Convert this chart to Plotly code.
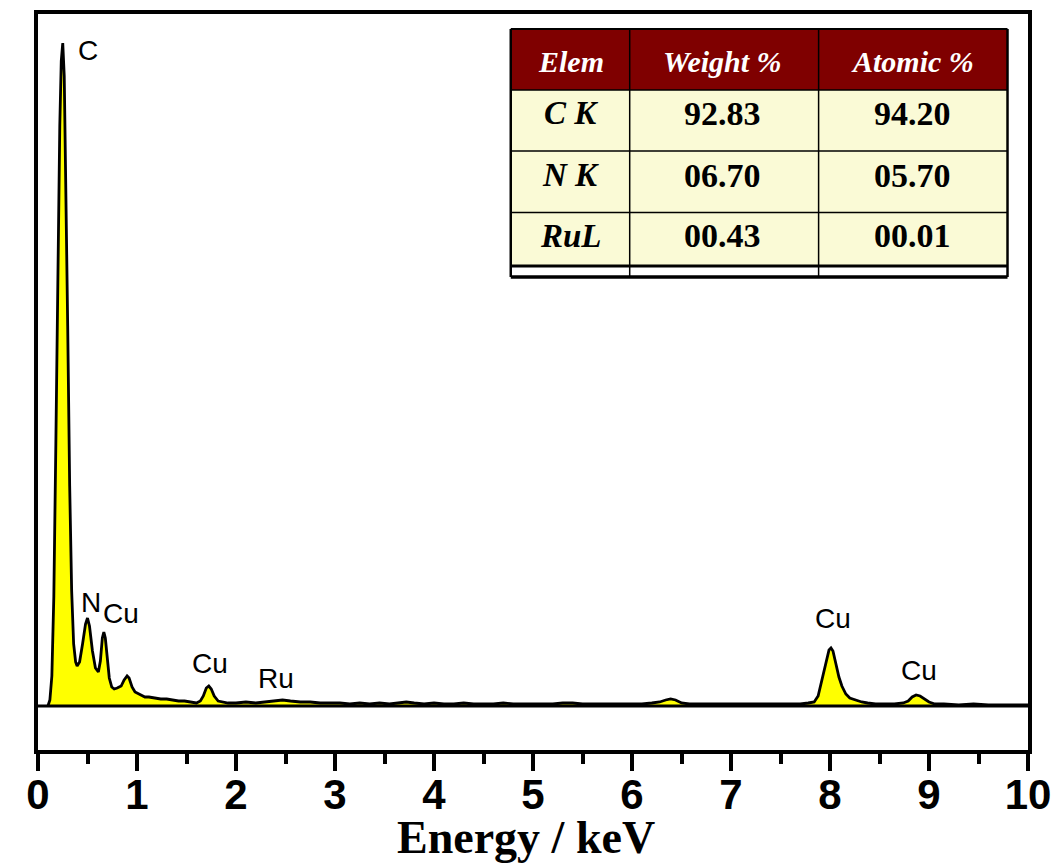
import plotly.graph_objects as go

# ---------------- data ----------------
energy_kev = [0.10, 0.12, 0.14, 0.16, 0.18, 0.20, 0.22, 0.235, 0.25, 0.265, 0.28, 0.30, 0.32, 0.34,
              0.36, 0.38, 0.395, 0.42, 0.45, 0.48, 0.50, 0.52, 0.55, 0.58, 0.61, 0.63, 0.65, 0.665,
              0.68, 0.70, 0.72, 0.745, 0.77, 0.80, 0.84, 0.87, 0.90, 0.92, 0.95, 0.98, 1.02, 1.08,
              1.12, 1.18, 1.24, 1.30, 1.36, 1.42, 1.48, 1.54, 1.60, 1.64, 1.67, 1.70, 1.725, 1.75,
              1.78, 1.82, 1.86, 1.92, 2.00, 2.10, 2.20, 2.30, 2.40, 2.47, 2.55, 2.65, 2.75, 2.85,
              2.95, 3.05, 3.15, 3.25, 3.35, 3.45, 3.55, 3.65, 3.72, 3.80, 3.90, 4.00, 4.10, 4.20,
              4.30, 4.40, 4.50, 4.60, 4.70, 4.80, 4.90, 5.00, 5.10, 5.20, 5.30, 5.40, 5.50, 5.60,
              5.70, 5.80, 5.90, 6.00, 6.10, 6.20, 6.28, 6.34, 6.39, 6.44, 6.50, 6.58, 6.70, 6.80,
              6.90, 7.00, 7.10, 7.20, 7.30, 7.40, 7.50, 7.60, 7.70, 7.78, 7.84, 7.88, 7.92, 7.96,
              7.99, 8.01, 8.03, 8.06, 8.09, 8.12, 8.16, 8.20, 8.26, 8.32, 8.38, 8.46, 8.55, 8.65,
              8.74, 8.79, 8.83, 8.87, 8.91, 8.95, 9.00, 9.06, 9.15, 9.30, 9.45, 9.60, 9.75, 9.90,
              10.00]
counts = [0, 6, 30, 110, 260, 430, 580, 645, 663, 630, 540, 380, 220, 115,
          62, 44, 40, 44, 62, 82, 88, 80, 55, 38, 34, 45, 68, 74,
          68, 48, 28, 19, 17, 18, 20, 26, 30, 28, 19, 14, 12, 9,
          9, 8, 7, 7, 6, 5, 5, 4, 3, 5, 10, 18, 20, 17,
          10, 5, 4, 3, 3, 4, 3, 4, 5, 6, 5, 4, 4, 3,
          3, 3, 2, 3, 2, 3, 2, 3, 4, 3, 2, 3, 2, 2,
          3, 2, 2, 2, 3, 2, 2, 2, 2, 2, 3, 3, 2, 2,
          2, 2, 2, 2, 2, 3, 4, 6, 7, 6, 3, 2, 2, 2,
          2, 2, 2, 2, 2, 2, 2, 2, 2, 3, 4, 10, 26, 44,
          56, 58, 55, 42, 29, 20, 12, 8, 6, 4, 3, 2, 2, 2,
          3, 5, 9, 11, 10, 7, 4, 2, 2, 1, 2, 1, 1, 1,
          1]

peak_labels = ["C", "N", "Cu", "Cu", "Ru", "Cu", "Cu"]
peak_label_x = [0.51, 0.54, 0.84, 1.74, 2.40, 8.03, 8.90]
peak_label_y = [656, 104, 93, 43, 28, 88, 36]

x_ticks = [0, 1, 2, 3, 4, 5, 6, 7, 8, 9, 10]
x_tick_labels = ["0", "1", "2", "3", "4", "5", "6", "7", "8", "9", "10"]
x_title = "Energy / keV"

table_header = ["Elem", "Weight %", "Atomic %"]
table_elements = ["C K", "N K", "RuL"]
table_weight = ["92.83", "06.70", "00.43"]
table_atomic = ["94.20", "05.70", "00.01"]

# ---------------- layout geometry (screen pixels) ----------------
OFF = 8                      # default page body margin
W, H = 1059 - OFF, 863 - OFF
FRAME_L, FRAME_R, FRAME_T, FRAME_B = 38, 1028.5, 14, 750
ML = FRAME_L - OFF
MR = W - (FRAME_R - OFF)
MT = FRAME_T - OFF
MB = H - (FRAME_B - OFF)
PW, PH = W - ML - MR, H - MT - MB


def px_x(px):
    return (px - FRAME_L) / PW


def px_y(py):
    return (FRAME_B - py) / PH


fig = go.Figure()

fig.add_trace(go.Scatter(
    x=energy_kev, y=counts, mode="lines",
    line=dict(color="black", width=2.8),
    fill="tozeroy", fillcolor="#FFFF00",
    hoverinfo="skip", showlegend=False,
))

shapes = []
shapes.append(dict(type="line", xref="x", yref="y", x0=0, x1=10, y0=0, y1=0,
                   line=dict(color="black", width=3)))

# ---------------- table ----------------
tx0, tx1 = 511, 1008
col_edges = [511, 630, 819, 1008]
row_edges = [29, 90, 151, 212.5, 266]
band_bottom = 277
header_fill = "#7F0000"
body_fill = "#FAFAD6"

shapes.append(dict(type="rect", xref="paper", yref="paper",
                   x0=px_x(tx0), x1=px_x(tx1), y0=px_y(row_edges[1]), y1=px_y(row_edges[0]),
                   fillcolor=header_fill, line=dict(width=0), layer="above"))
shapes.append(dict(type="rect", xref="paper", yref="paper",
                   x0=px_x(tx0), x1=px_x(tx1), y0=px_y(row_edges[4]), y1=px_y(row_edges[1]),
                   fillcolor=body_fill, line=dict(width=0), layer="above"))
shapes.append(dict(type="rect", xref="paper", yref="paper",
                   x0=px_x(tx0), x1=px_x(tx1), y0=px_y(band_bottom), y1=px_y(row_edges[4]),
                   fillcolor="white", line=dict(width=0), layer="above"))
for yy, wdt in [(row_edges[1], 1.5), (row_edges[2], 1.5), (row_edges[3], 1.5),
                (row_edges[4], 3), (band_bottom, 3.5), (row_edges[0], 2)]:
    shapes.append(dict(type="line", xref="paper", yref="paper",
                       x0=px_x(tx0), x1=px_x(tx1), y0=px_y(yy), y1=px_y(yy),
                       line=dict(color="black", width=wdt), layer="above"))
for i, xx in enumerate(col_edges):
    wdt = 2.5 if i in (0, 3) else 1.5
    shapes.append(dict(type="line", xref="paper", yref="paper",
                       x0=px_x(xx), x1=px_x(xx), y0=px_y(band_bottom), y1=px_y(row_edges[0]),
                       line=dict(color="black", width=wdt), layer="above"))

annotations = []
for lab, lx, ly in zip(peak_labels, peak_label_x, peak_label_y):
    annotations.append(dict(x=lx, y=ly, xref="x", yref="y", text=lab, showarrow=False,
                            xanchor="center", yanchor="middle",
                            font=dict(family="Liberation Sans, Arial, sans-serif", size=28, color="black")))

col_centers = [571, 723, 913]
header_y = 62
row_text_y = [113, 175, 236]
for cx, txt in zip(col_centers, table_header):
    annotations.append(dict(x=px_x(cx), y=px_y(header_y), xref="paper", yref="paper", text=txt,
                            showarrow=False, xanchor="center", yanchor="middle",
                            font=dict(family="Liberation Serif, Times New Roman, serif", size=30,
                                      color="white", weight="bold", style="italic")))
for ry, el, wv, av in zip(row_text_y, table_elements, table_weight, table_atomic):
    annotations.append(dict(x=px_x(col_centers[0]), y=px_y(ry), xref="paper", yref="paper", text=el,
                            showarrow=False, xanchor="center", yanchor="middle",
                            font=dict(family="Liberation Serif, Times New Roman, serif", size=33,
                                      color="black", weight="bold", style="italic")))
    for cx, v in zip(col_centers[1:], [wv, av]):
        annotations.append(dict(x=px_x(cx), y=px_y(ry), xref="paper", yref="paper", text=v,
                                showarrow=False, xanchor="center", yanchor="middle",
                                font=dict(family="Liberation Serif, Times New Roman, serif", size=34,
                                          color="black", weight="bold")))

annotations.append(dict(x=px_x(526), y=px_y(837), xref="paper", yref="paper", text=x_title,
                        showarrow=False, xanchor="center", yanchor="middle",
                        font=dict(family="Liberation Serif, Times New Roman, serif", size=46,
                                  color="black", weight="bold")))

fig.update_layout(
    width=W, height=H, autosize=False,
    margin=dict(l=ML, r=MR, t=MT, b=MB, pad=0, autoexpand=False),
    paper_bgcolor="white", plot_bgcolor="white",
    showlegend=False,
    shapes=shapes, annotations=annotations,
    xaxis=dict(
        range=[0, 10], tickmode="array", tickvals=x_ticks, ticktext=x_tick_labels,
        ticks="outside", ticklen=17, tickwidth=4, tickcolor="black",
        showline=True, linewidth=4, linecolor="black", mirror=True,
        showgrid=False, zeroline=False, automargin=False,
        ticklabelstandoff=-12,
        tickfont=dict(family="Liberation Sans, Arial, sans-serif", size=42, color="black", weight="bold"),
        minor=dict(ticks="outside", ticklen=10, tickwidth=4, tickcolor="black", dtick=0.5, showgrid=False),
    ),
    yaxis=dict(
        range=[-44, 692], showticklabels=False, ticks="",
        showline=True, linewidth=4, linecolor="black", mirror=True,
        showgrid=False, zeroline=False, automargin=False,
    ),
)

fig.write_html("out.html")
